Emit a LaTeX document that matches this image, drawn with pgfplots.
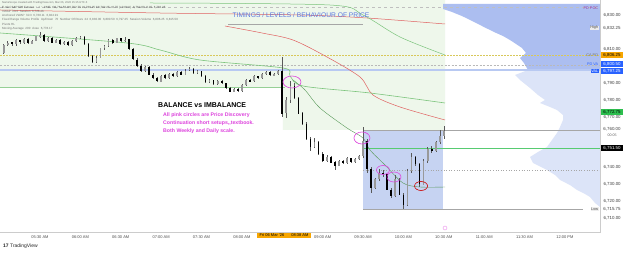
\documentclass[border=0pt]{standalone}
\usepackage{fontspec}
\setmainfont{Liberation Sans}
\usepackage{pgfplots}
\pgfplotsset{compat=1.18}
\usepackage{pgfplotstable}
\newcommand{\fs}[1]{\fontsize{#1pt}{#1pt}\selectfont}
\definecolor{bggreen}{RGB}{238,247,235}
\definecolor{vpdeep}{RGB}{172,190,240}
\definecolor{vplight}{RGB}{220,228,248}
\definecolor{boxblue}{RGB}{198,211,242}
\definecolor{lvlblue}{RGB}{184,201,242}
\definecolor{pinkc}{RGB}{221,68,221}
\definecolor{tvorange}{RGB}{247,166,0}
\definecolor{vablue}{RGB}{41,98,255}
\definecolor{lastgreen}{RGB}{45,190,78}
\definecolor{titleblue}{RGB}{91,120,224}
\definecolor{mared}{RGB}{224,96,96}
\definecolor{magreen}{RGB}{124,196,124}
\definecolor{vwgreen}{RGB}{90,154,90}
\definecolor{lvlyellow}{RGB}{216,200,90}
\pgfplotstableread{
x o h l c
-27 6808.0 6813.2 6807.4 6812.5
-24 6812.5 6814.8 6811.6 6814.0
-21 6814.0 6814.6 6812.0 6812.8
-18 6812.8 6815.9 6812.2 6815.2
-15 6815.2 6815.8 6813.2 6814.0
-12 6814.0 6816.8 6813.5 6816.0
-9 6816.0 6816.4 6812.8 6813.5
-6 6813.5 6815.7 6813.0 6815.0
-3 6815.0 6818.0 6814.6 6817.5
0 6817.5 6820.2 6816.8 6818.5
3 6818.5 6819.0 6814.5 6815.0
6 6815.0 6817.2 6814.3 6816.5
9 6816.5 6817.0 6813.4 6814.0
12 6814.0 6816.2 6813.6 6815.5
15 6815.5 6816.0 6812.4 6813.0
18 6813.0 6815.2 6812.6 6814.5
21 6814.5 6815.0 6811.8 6812.5
24 6812.5 6815.6 6812.0 6815.0
27 6815.0 6817.4 6814.5 6816.8
30 6816.8 6818.0 6816.0 6817.5
33 6817.5 6817.8 6812.4 6813.0
36 6813.0 6813.5 6805.5 6806.0
39 6806.0 6806.8 6801.8 6802.5
42 6802.5 6805.8 6802.0 6805.0
45 6805.0 6811.0 6804.6 6810.5
48 6810.5 6812.6 6809.8 6812.0
51 6812.0 6816.0 6811.5 6815.5
54 6815.5 6816.2 6813.4 6814.0
57 6814.0 6817.0 6813.6 6816.5
60 6816.5 6817.0 6814.5 6815.0
63 6815.0 6817.2 6814.6 6815.8
66 6815.8 6816.2 6809.5 6810.0
69 6810.0 6810.6 6803.5 6804.0
72 6804.0 6804.8 6799.5 6800.0
75 6800.0 6801.2 6796.5 6797.0
78 6797.0 6800.2 6796.4 6799.5
81 6799.5 6800.0 6794.5 6795.0
84 6795.0 6795.8 6792.5 6793.0
87 6793.0 6793.6 6790.5 6791.0
90 6791.0 6795.0 6790.8 6794.5
93 6794.5 6795.2 6792.4 6793.0
96 6793.0 6796.0 6792.6 6795.5
99 6795.5 6796.0 6793.5 6794.0
102 6794.0 6797.0 6793.6 6796.5
105 6796.5 6797.0 6794.5 6795.0
108 6795.0 6798.0 6794.6 6797.5
111 6797.5 6799.5 6797.0 6798.5
114 6798.5 6799.0 6795.5 6796.0
117 6796.0 6797.6 6795.4 6797.0
120 6797.0 6797.4 6793.5 6794.0
123 6794.0 6794.6 6790.0 6790.5
126 6790.5 6792.2 6790.0 6791.5
129 6791.5 6792.0 6789.0 6789.5
132 6789.5 6791.6 6789.0 6791.0
135 6791.0 6791.5 6789.5 6790.0
138 6790.0 6790.4 6786.5 6787.0
141 6787.0 6787.6 6784.5 6785.0
144 6785.0 6787.0 6784.6 6786.5
147 6786.5 6787.0 6785.0 6785.5
150 6785.5 6789.5 6785.0 6789.0
153 6789.0 6792.6 6788.6 6792.0
156 6792.0 6792.6 6790.5 6791.0
159 6791.0 6794.6 6790.6 6794.0
162 6794.0 6794.5 6792.5 6793.0
165 6793.0 6796.0 6792.6 6795.5
168 6795.5 6797.2 6795.0 6796.5
171 6796.5 6797.0 6794.0 6794.5
174 6794.5 6796.0 6794.0 6795.5
177 6795.5 6797.8 6795.0 6797.0
180 6797.0 6805.4 6769.8 6772.0
183 6772.0 6782.0 6769.2 6780.0
186 6780.0 6791.2 6778.0 6788.5
189 6788.5 6790.0 6780.5 6781.0
192 6781.0 6782.0 6771.5 6772.0
195 6772.0 6773.0 6765.5 6766.0
198 6766.0 6767.0 6756.5 6757.0
201 6757.0 6758.0 6750.0 6752.0
204 6752.0 6757.6 6751.5 6755.0
207 6755.0 6755.8 6747.5 6748.0
210 6748.0 6749.0 6743.5 6744.0
213 6744.0 6747.2 6743.6 6746.5
216 6746.5 6747.0 6742.5 6743.0
219 6743.0 6743.6 6738.5 6741.0
222 6741.0 6744.6 6740.6 6744.0
225 6744.0 6744.6 6742.0 6742.5
228 6742.5 6746.0 6742.0 6745.5
231 6745.5 6746.0 6743.0 6743.5
234 6743.5 6745.6 6743.0 6745.0
237 6745.0 6747.6 6744.5 6747.0
240 6747.0 6764.0 6746.0 6756.0
243 6756.0 6757.0 6737.0 6739.0
246 6739.0 6740.0 6725.0 6728.0
249 6728.0 6734.0 6727.0 6733.0
252 6733.0 6739.0 6732.0 6737.0
255 6737.0 6738.5 6734.5 6736.0
258 6736.0 6736.5 6726.5 6727.0
261 6727.0 6728.0 6722.0 6723.0
264 6723.0 6735.5 6722.5 6733.0
267 6733.0 6734.0 6723.5 6724.0
270 6724.0 6725.0 6715.75 6718.0
273 6718.0 6739.0 6717.5 6738.0
276 6738.0 6748.6 6737.0 6746.0
279 6746.0 6747.0 6741.0 6742.0
282 6742.0 6742.5 6728.5 6730.0
285 6730.0 6745.0 6729.5 6744.0
288 6744.0 6752.0 6743.0 6751.0
291 6751.0 6753.0 6748.5 6750.0
294 6750.0 6756.0 6749.5 6755.0
297 6755.0 6762.0 6754.0 6759.0
300 6759.0 6764.5 6757.0 6761.5
}\candles
\begin{document}
\begin{tikzpicture}
\useasboundingbox (0,0) rectangle (625pt,255pt);
\fill[white] (0,0) rectangle (625pt,255pt);
\begin{axis}[
  at={(0pt,23pt)}, anchor=south west,
  width=600pt, height=232pt, scale only axis,
  xmin=-29.72, xmax=416.05, ymin=6701.83, ymax=6839.11,
  axis line style={draw=none}, tick style={draw=none},
  clip mode=individual, scaled y ticks=false,
  xtick={0,30,60,90,120,150,210,240,270,300,330,360,390},
  xticklabels={05:30 AM,06:00 AM,06:30 AM,07:00 AM,07:30 AM,08:00 AM,09:00 AM,09:30 AM,10:00 AM,10:30 AM,11:00 AM,11:30 AM,12:00 PM},
  xticklabel style={font=\fs{4}, text=black!70},
  ytick={6710,6720,6730,6740,6770,6780,6790,6810,6830},
  yticklabel pos=right,
  yticklabel style={font=\fs{4.4}, text=black!75, anchor=west},
  yticklabel={\pgfmathprintnumber[fixed,fixed zerofill,precision=2,1000 sep={,},assume math mode=true]{\tick}},
]
% green background
\addplot[fill=bggreen, draw=none] coordinates {(-29.72,6839.11) (300.89,6839.11) (300.89,6762.19) (180.53,6762.19) (180.53,6787.63) (-29.72,6787.63)};
% volume profile
\addplot[fill=vpdeep, draw=none] coordinates {(416.05,6836.75) (299.41,6836.75) (299.41,6833.79) (306.09,6832.01) (313.52,6829.64) (319.47,6827.28) (325.41,6824.91) (331.35,6822.54) (337.30,6820.18) (343.98,6817.81) (349.18,6815.44) (353.64,6813.08) (358.10,6810.71) (361.07,6807.75) (356.61,6804.79) (359.58,6801.83) (362.56,6797.69) (416.05,6797.69)};
\addplot[fill=vplight, draw=none] coordinates {(416.05,6797.69) (362.56,6797.69) (352.90,6794.73) (356.61,6791.78) (364.04,6787.04) (369.99,6782.90) (375.19,6779.94) (371.47,6778.17) (378.90,6775.80) (384.10,6774.02) (388.56,6771.07) (388.56,6768.11) (386.33,6763.96) (384.10,6760.41) (380.39,6756.27) (376.67,6752.13) (369.99,6749.17) (364.04,6746.21) (366.27,6742.66) (376.67,6738.52) (382.62,6735.56) (386.33,6732.60) (393.76,6729.64) (398.96,6726.69) (404.90,6724.32) (408.62,6722.54) (412.33,6719.00) (416.05,6716.63)};
% session box
\addplot[fill=boxblue, draw=none] coordinates {(239.97,6762.19) (299.41,6762.19) (299.41,6715.44) (239.97,6715.44)};
% level lines
\addplot[gray!50, dashed, line width=0.4pt] coordinates {(-29.72,6834.97) (416.05,6834.97)};
\addplot[lvlyellow, dash pattern=on 1.5pt off 1.5pt, line width=0.5pt] coordinates {(-29.72,6806.57) (416.05,6806.57)};
\addplot[gray!55, dash pattern=on 2pt off 1.5pt, line width=0.4pt] coordinates {(-29.72,6800.65) (416.05,6800.65)};
\addplot[lvlblue, line width=1.5pt] coordinates {(-29.72,6797.69) (416.05,6797.69)};
\addplot[magreen!80, line width=0.5pt] coordinates {(-29.72,6787.63) (182.02,6787.63)};
\addplot[gray!70, line width=0.5pt] coordinates {(239.97,6762.19) (416.05,6762.19)};
\addplot[lastgreen!80, line width=0.6pt] coordinates {(239.97,6751.54) (416.05,6751.54)};
\addplot[gray!70, dotted, line width=0.6pt] coordinates {(239.97,6738.52) (416.05,6738.52)};
\addplot[gray!70, line width=0.5pt] coordinates {(239.97,6715.44) (403.4,6715.44)};
\addplot[gray!70, line width=0.6pt] coordinates {(139.7,6824.91) (239.97,6824.91)};
% moving averages
\addplot[mared, line width=0.5pt, smooth] coordinates {(-29.72,6833.20) (89.15,6831.42) (193.16,6830.24) (242.94,6828.46) (300.89,6824.91)};
\addplot[mared, line width=0.5pt, smooth] coordinates {(137.44,6823.73) (164.93,6819.59) (187.97,6815.44) (213.22,6805.38) (237.74,6793.55) (247.40,6782.90) (267.46,6775.80) (300.89,6768.11)};
\addplot[magreen, line width=0.5pt, smooth] coordinates {(81.72,6837.34) (215.45,6836.15) (239.97,6830.24) (267.46,6817.22) (300.89,6806.57)};
\addplot[magreen, line width=0.6pt, smooth] coordinates {(-29.72,6819.59) (64.64,6813.67) (89.15,6809.53) (118.87,6803.61) (180.53,6798.88) (185.74,6794.14) (195.39,6788.22) (245.17,6784.08) (300.89,6778.17)};
\addplot[vwgreen, line width=0.4pt, smooth] coordinates {(187.97,6791.78) (196.88,6785.86) (208.02,6775.21) (228.08,6763.37) (239.97,6757.46) (245.17,6750.36) (256.32,6741.48) (269.69,6730.83) (282.32,6728.46) (300.89,6728.46)};
% candles: wicks
\addplot[draw=none, mark=none, error bars/.cd, y dir=both, y explicit, error mark=none,
  error bar style={draw=black!65, line width=0.4pt}]
  table[x=x, y expr={(\thisrow{h}+\thisrow{l})/2}, y error expr={(\thisrow{h}-\thisrow{l})/2}] {\candles};
% up bodies
\addplot[draw=none, mark=none, error bars/.cd, y dir=both, y explicit, error mark=none,
  error bar style={draw=black!40, line width=1.7pt}]
  table[x=x, y expr={(\thisrow{o}+\thisrow{c})/2}, y error expr={max(\thisrow{c}-\thisrow{o},0)/2}] {\candles};
% down bodies
\addplot[draw=none, mark=none, error bars/.cd, y dir=both, y explicit, error mark=none,
  error bar style={draw=black, line width=1.7pt}]
  table[x=x, y expr={(\thisrow{o}+\thisrow{c})/2}, y error expr={max(\thisrow{o}-\thisrow{c},0)/2}] {\candles};
% axis frame
\draw[gray!40, line width=0.5pt] (rel axis cs:0,0) -- (rel axis cs:1,0) -- (rel axis cs:1,1);
% annotations
\draw[pinkc, line width=0.6pt] (axis cs:187.2,6790.59) ellipse [x radius=9pt, y radius=6pt];
\draw[pinkc, line width=0.6pt] (axis cs:239.2,6757.46) ellipse [x radius=8pt, y radius=6pt];
\draw[pinkc, line width=0.6pt] (axis cs:254.8,6738.52) ellipse [x radius=6.5pt, y radius=4.5pt];
\draw[pinkc, line width=0.6pt] (axis cs:263.0,6734.38) ellipse [x radius=7pt, y radius=5pt];
\draw[red!80!black, line width=0.6pt] (axis cs:283.1,6729.05) ellipse [x radius=6.5pt, y radius=4.5pt];
\node[font=\fs{6.7}, text=titleblue] at (axis cs:193.9,6830.24) {TIMINGS / LEVELS / BEHAVIOUR OF PRICE};
\node[anchor=west, font=\bfseries\fs{7}, inner sep=0pt] at (axis cs:87.7,6777.0) {BALANCE vs IMBALANCE};
\node[anchor=north west, font=\bfseries\fontsize{5.2pt}{8pt}\selectfont, text=pinkc, align=left, inner sep=0pt] at (axis cs:91.4,6772.5) {All pink circles are Price Discovery\\Continuation short setups,{},textbook.\\Both Weekly and Daily scale.};
% price scale labels
\tikzset{plab/.style={anchor=west, font=\fs{4.4}, inner sep=0.7pt, minimum width=22pt, xshift=0.8pt}}
\node[plab, text=black!75] at (axis cs:416.05,6822.54) {6,832.25};
\node[plab, fill=tvorange, text=black] at (axis cs:416.05,6806.57) {6,806.25};
\node[plab, fill=vablue, text=white] at (axis cs:416.05,6801.24) {6,800.50};
\node[plab, fill=vablue, text=white] at (axis cs:416.05,6797.10) {6,797.25};
\node[plab, fill=lastgreen, text=black] at (axis cs:416.05,6772.84) {6,772.75};
\node[plab, text=black!75] at (axis cs:416.05,6762.78) {6,760.00};
\node[plab, text=black!60, font=\fs{3.6}] at (axis cs:416.05,6759.2) {00:05};
\node[plab, fill=black, text=white] at (axis cs:416.05,6751.54) {6,751.50};
\node[plab, text=black!75] at (axis cs:416.05,6715.44) {6,715.75};
\tikzset{llab/.style={anchor=east, font=\fs{3.8}, inner sep=0.6pt, xshift=-1pt}}
\node[llab, text=pinkc!70!black] at (axis cs:416.05,6834.38) {PD POC};
\node[llab, fill=gray!15, text=black!70] at (axis cs:416.05,6822.54) {High};
\node[llab, text=black!55] at (axis cs:416.05,6806.57) {CA PO};
\node[llab, text=vablue] at (axis cs:416.05,6801.24) {PD VA};
\node[llab, fill=vablue, text=white] at (axis cs:416.05,6797.10) {VAL};
\node[llab, fill=gray!15, text=black!70] at (axis cs:416.05,6715.44) {Low};
% time scale highlight
\node[fill=tvorange, font=\fs{4}, inner sep=1pt, minimum width=54pt, anchor=north, yshift=-0.6pt] at (axis cs:181.3,6701.83) {Fri 06 Mar '26\hspace{7pt}08:38 AM};
\draw[pinkc!60, line width=0.4pt] (axis cs:300.89,6704.2) circle [radius=2pt];
\end{axis}
% header legend
\begin{scope}[every node/.style={anchor=west, inner sep=0pt, text=black!55}]
\node[font=\fs{2.7}] at (2pt,252pt) {NameScope created with TradingView.com, Mar 06, 2026 15:15 UTC-5};
\node[font=\fs{3}, text=black!70] at (2pt,247pt) {E-mini S\&P 500 Futures $\cdot$ 1 $\cdot$ CME \ O6,761.50 H6,762.75 L6,760.25 C6,762.25 +0.75 (+0.01\%) \ 6,762.00 \ 0.25 \ 6,762.25};
\node[font=\fs{3}] at (2pt,243pt) {VWAP \ hlc3 \ Session \ 6,728.46};
\node[font=\fs{3}] at (2pt,239pt) {Anchored VWAP \ hlc3 \ 6,768.11 \ 6,824.91};
\node[font=\fs{3}] at (2pt,235pt) {Fixed Range Volume Profile \ Up/Down \ 70 \ Number Of Rows \ 24 \ 6,830.00 \ 6,800.50 \ 6,797.25 \ Session Volume \ 6,806.25 \ 6,815.50};
\node[font=\fs{3}] at (2pt,230.5pt) {Pivots HL};
\node[font=\fs{3}] at (2pt,226.5pt) {Moving Average \ 200 \ close \ 6,778.17};
\end{scope}
\node[anchor=west, font=\fs{5}, text=black!85, inner sep=0pt] at (3pt,9pt) {\textbf{17} TradingView};
\end{tikzpicture}
\end{document}
